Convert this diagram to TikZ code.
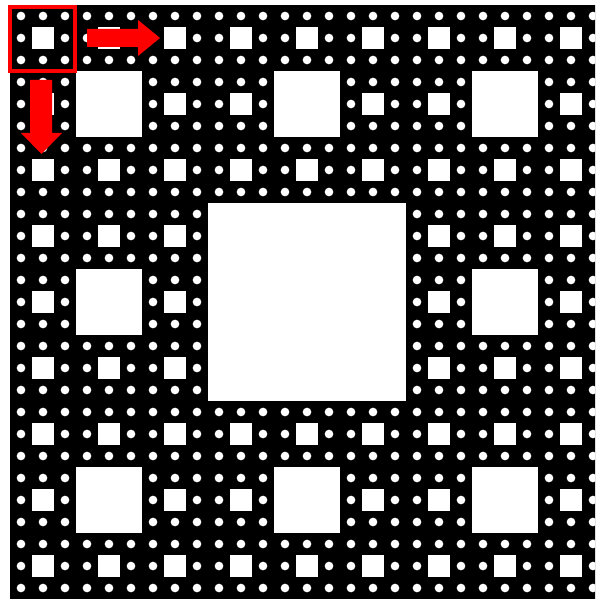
\documentclass[tikz,border=0pt]{standalone}
\definecolor{mRed}{HTML}{FF0000}

\begin{document}
\begin{tikzpicture}[
  x=0.03cm, y=-0.03cm,
  hole/.style={fill=white},
  dot/.style={fill=white},
  marker/.style={fill=mRed},
  frame/.style={draw=mRed, line width=3pt},
]
  \fill[white] (0,0) rectangle (595,600);
  \clip (0,0) rectangle (595,600);

  % carpet
  \def\ox{10}
  \def\oy{5}
  \def\side{594}
  \fill[black] (\ox,\oy) rectangle ++(\side,\side);

  % holes, levels 1 to 3
  \foreach \lvl/\n in {1/0, 2/2, 3/8} {
    \pgfmathsetmacro\s{\side/3^\lvl}
    \foreach \i in {0,...,\n}
      \foreach \j in {0,...,\n}
        \fill[hole] ({\ox+(3*\i+1)*\s},{\oy+(3*\j+1)*\s}) rectangle ++(\s,\s);
  }

  % level 4, small dots
  \pgfmathsetmacro\d{\side/81}
  \foreach \i in {0,...,26}
    \foreach \j in {0,...,26}
      \fill[dot] ({\ox+(3*\i+1.5)*\d},{\oy+(3*\j+1.5)*\d}) circle[radius=0.13cm];

  % first tile and its copies
  \draw[frame] (9.75,6.75) rectangle (75.25,71.25);
  \fill[marker] (87,29) -- (138,29) -- (138,20) -- (160,38)
    -- (138,56) -- (138,47) -- (87,47) -- cycle;
  \fill[marker] (30,80) -- (52,80) -- (52,133) -- (62,133)
    -- (41.5,154) -- (21,133) -- (30,133) -- cycle;
\end{tikzpicture}
\end{document}
